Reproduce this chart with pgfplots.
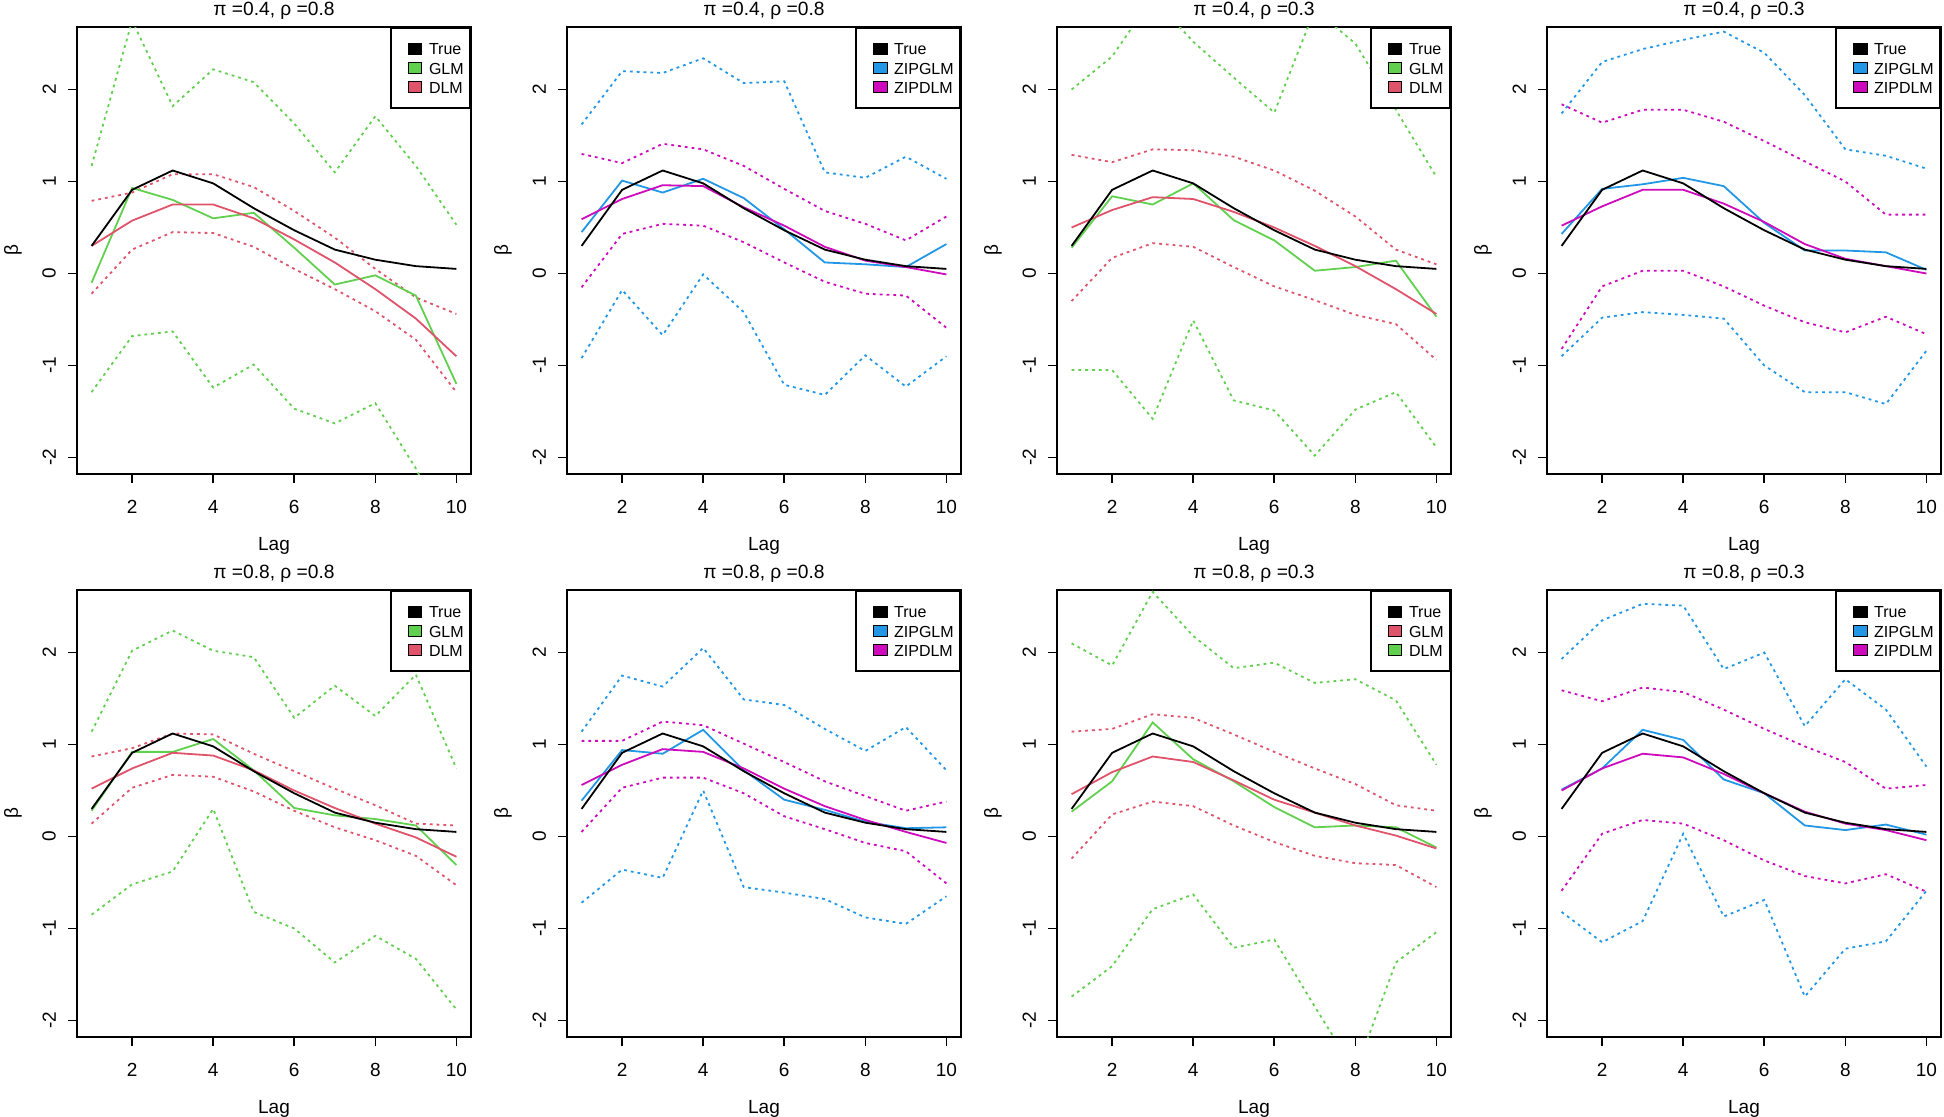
\documentclass[border=0pt]{standalone}
\usepackage{fontspec}
\setmainfont{Liberation Sans}
\usepackage{pgfplots}
\pgfplotsset{compat=1.18}
\definecolor{rred}{HTML}{DF536B}
\definecolor{rgreen}{HTML}{61D04F}
\definecolor{rblue}{HTML}{2297E6}
\definecolor{rmag}{HTML}{CD0BBC}
\pgfplotsset{
 panel/.style={
  scale only axis, width=197pt, height=223.5pt, anchor=north west,
  xmin=0.64, xmax=10.36, ymin=-2.18, ymax=2.68,
  axis line style={line width=1.1pt},
  xtick={2,4,6,8,10}, ytick={-2,-1,0,1,2}, yticklabels={-2,-1,0,1,2},
  tick align=outside, xtick pos=bottom, ytick pos=left,
  major tick length=4.5pt, tick style={black, line width=0.8pt},
  /pgf/number format/assume math mode=true,
  ticklabel style={font=\fontsize{9.5}{10}\selectfont},
  xticklabel style={yshift=-5pt},
  yticklabel style={rotate=90, anchor=near yticklabel, yshift=2.5pt},
  xlabel={Lag}, ylabel={β},
  label style={font=\fontsize{9.5}{10}\selectfont},
  xlabel style={at={(axis description cs:0.5,0)}, anchor=center, yshift=-35.8pt},
  ylabel style={at={(axis description cs:0,0.5)}, anchor=center, yshift=32pt},
  title style={at={(axis description cs:0.5,1)}, anchor=center, yshift=2.3pt, font=\fontsize{9.6}{10}\selectfont},
  legend style={at={(1,1)}, anchor=north east, draw=black, line width=0.9pt,
    font=\fontsize{8}{8}\selectfont, row sep=1.3pt, inner xsep=2.2pt, inner ysep=6.2pt,
    nodes={inner sep=1pt, text height=6.3pt, text depth=0pt},
    /tikz/every odd column/.append style={column sep=2.3pt}},
  legend cell align=left,
 },
 sol/.style={line width=0.9pt, forget plot},
 dot/.style={line width=0.9pt, dash pattern=on 1.4pt off 2pt, forget plot},
}
\newcommand{\legsq}[2]{\addlegendimage{legend image code/.code={\path (-6.2pt,0pt); \draw[draw=black,fill=#1,line width=0.5pt] (0pt,-2.8pt) rectangle (6.8pt,2.8pt);}}\addlegendentry{#2}}
\newcommand{\truth}{\addplot[sol, black] coordinates {(1,0.30)(2,0.91)(3,1.12)(4,0.98)(5,0.71)(6,0.47)(7,0.26)(8,0.15)(9,0.08)(10,0.05)};}
\begin{document}
\begin{tikzpicture}
\path[use as bounding box] (0,0) rectangle (972pt,-558pt);
% ---------- Panel 1 ----------
\begin{axis}[panel, at={(38.5pt,-13.5pt)}, title={π =0.4, ρ =0.8}]
\addplot[dot, rgreen] coordinates {(1,1.17)(2,2.75)(3,1.82)(4,2.22)(5,2.08)(6,1.63)(7,1.10)(8,1.71)(9,1.17)(10,0.53)};
\addplot[dot, rgreen] coordinates {(1,-1.29)(2,-0.68)(3,-0.63)(4,-1.24)(5,-0.99)(6,-1.47)(7,-1.63)(8,-1.41)(9,-2.12)(10,-3.0)};
\addplot[dot, rred] coordinates {(1,0.79)(2,0.88)(3,1.08)(4,1.08)(5,0.94)(6,0.68)(7,0.39)(8,0.05)(9,-0.26)(10,-0.44)};
\addplot[dot, rred] coordinates {(1,-0.22)(2,0.26)(3,0.45)(4,0.44)(5,0.29)(6,0.05)(7,-0.17)(8,-0.41)(9,-0.72)(10,-1.29)};
\addplot[sol, rgreen] coordinates {(1,-0.10)(2,0.93)(3,0.80)(4,0.60)(5,0.66)(6,0.28)(7,-0.12)(8,-0.02)(9,-0.24)(10,-1.20)};
\addplot[sol, rred] coordinates {(1,0.30)(2,0.575)(3,0.75)(4,0.75)(5,0.60)(6,0.37)(7,0.12)(8,-0.17)(9,-0.49)(10,-0.90)};
\truth
\legsq{black}{True}
\legsq{rgreen}{GLM}
\legsq{rred}{DLM}
\end{axis}
% ---------- Panel 2 ----------
\begin{axis}[panel, at={(283.5pt,-13.5pt)}, title={π =0.4, ρ =0.8}]
\addplot[dot, rblue] coordinates {(1,1.62)(2,2.20)(3,2.18)(4,2.34)(5,2.07)(6,2.09)(7,1.10)(8,1.04)(9,1.27)(10,1.03)};
\addplot[dot, rblue] coordinates {(1,-0.92)(2,-0.18)(3,-0.67)(4,-0.01)(5,-0.42)(6,-1.21)(7,-1.32)(8,-0.89)(9,-1.23)(10,-0.90)};
\addplot[dot, rmag] coordinates {(1,1.30)(2,1.20)(3,1.41)(4,1.35)(5,1.17)(6,0.92)(7,0.68)(8,0.54)(9,0.36)(10,0.62)};
\addplot[dot, rmag] coordinates {(1,-0.15)(2,0.43)(3,0.54)(4,0.52)(5,0.34)(6,0.12)(7,-0.09)(8,-0.22)(9,-0.24)(10,-0.59)};
\addplot[sol, rblue] coordinates {(1,0.45)(2,1.01)(3,0.88)(4,1.03)(5,0.82)(6,0.48)(7,0.12)(8,0.10)(9,0.07)(10,0.32)};
\addplot[sol, rmag] coordinates {(1,0.59)(2,0.81)(3,0.96)(4,0.95)(5,0.72)(6,0.52)(7,0.29)(8,0.14)(9,0.07)(10,-0.01)};
\truth
\legsq{black}{True}
\legsq{rblue}{ZIPGLM}
\legsq{rmag}{ZIPDLM}
\end{axis}
% ---------- Panel 3 ----------
\begin{axis}[panel, at={(528.5pt,-13.5pt)}, title={π =0.4, ρ =0.3}]
\addplot[dot, rgreen] coordinates {(1,2.00)(2,2.36)(3,3.00)(4,2.52)(5,2.13)(6,1.75)(7,2.87)(8,2.50)(9,1.78)(10,1.05)};
\addplot[dot, rgreen] coordinates {(1,-1.05)(2,-1.05)(3,-1.58)(4,-0.51)(5,-1.38)(6,-1.49)(7,-1.98)(8,-1.48)(9,-1.29)(10,-1.89)};
\addplot[dot, rred] coordinates {(1,1.29)(2,1.21)(3,1.35)(4,1.34)(5,1.27)(6,1.12)(7,0.90)(8,0.62)(9,0.26)(10,0.10)};
\addplot[dot, rred] coordinates {(1,-0.30)(2,0.17)(3,0.33)(4,0.29)(5,0.07)(6,-0.14)(7,-0.29)(8,-0.45)(9,-0.55)(10,-0.94)};
\addplot[sol, rgreen] coordinates {(1,0.28)(2,0.84)(3,0.75)(4,0.98)(5,0.58)(6,0.36)(7,0.03)(8,0.07)(9,0.14)(10,-0.47)};
\addplot[sol, rred] coordinates {(1,0.50)(2,0.69)(3,0.83)(4,0.81)(5,0.67)(6,0.50)(7,0.30)(8,0.08)(9,-0.17)(10,-0.44)};
\truth
\legsq{black}{True}
\legsq{rgreen}{GLM}
\legsq{rred}{DLM}
\end{axis}
% ---------- Panel 4 ----------
\begin{axis}[panel, at={(773.5pt,-13.5pt)}, title={π =0.4, ρ =0.3}]
\addplot[dot, rblue] coordinates {(1,1.74)(2,2.30)(3,2.44)(4,2.54)(5,2.63)(6,2.40)(7,1.94)(8,1.35)(9,1.28)(10,1.14)};
\addplot[dot, rblue] coordinates {(1,-0.90)(2,-0.48)(3,-0.42)(4,-0.45)(5,-0.49)(6,-1.00)(7,-1.29)(8,-1.29)(9,-1.42)(10,-0.84)};
\addplot[dot, rmag] coordinates {(1,1.84)(2,1.64)(3,1.78)(4,1.78)(5,1.65)(6,1.44)(7,1.22)(8,1.00)(9,0.64)(10,0.64)};
\addplot[dot, rmag] coordinates {(1,-0.82)(2,-0.14)(3,0.03)(4,0.03)(5,-0.14)(6,-0.35)(7,-0.53)(8,-0.64)(9,-0.47)(10,-0.66)};
\addplot[sol, rblue] coordinates {(1,0.43)(2,0.92)(3,0.97)(4,1.04)(5,0.95)(6,0.55)(7,0.25)(8,0.25)(9,0.23)(10,0.04)};
\addplot[sol, rmag] coordinates {(1,0.52)(2,0.73)(3,0.91)(4,0.91)(5,0.76)(6,0.56)(7,0.32)(8,0.16)(9,0.08)(10,0.00)};
\truth
\legsq{black}{True}
\legsq{rblue}{ZIPGLM}
\legsq{rmag}{ZIPDLM}
\end{axis}
% ---------- Panel 5 ----------
\begin{axis}[panel, at={(38.5pt,-295pt)}, title={π =0.8, ρ =0.8}]
\addplot[dot, rgreen] coordinates {(1,1.14)(2,2.02)(3,2.24)(4,2.02)(5,1.95)(6,1.29)(7,1.64)(8,1.31)(9,1.76)(10,0.74)};
\addplot[dot, rgreen] coordinates {(1,-0.85)(2,-0.52)(3,-0.38)(4,0.30)(5,-0.82)(6,-1.00)(7,-1.37)(8,-1.08)(9,-1.33)(10,-1.88)};
\addplot[dot, rred] coordinates {(1,0.87)(2,0.96)(3,1.12)(4,1.11)(5,0.90)(6,0.71)(7,0.52)(8,0.34)(9,0.14)(10,0.12)};
\addplot[dot, rred] coordinates {(1,0.14)(2,0.53)(3,0.67)(4,0.65)(5,0.49)(6,0.28)(7,0.10)(8,-0.04)(9,-0.21)(10,-0.53)};
\addplot[sol, rgreen] coordinates {(1,0.28)(2,0.92)(3,0.92)(4,1.06)(5,0.72)(6,0.31)(7,0.23)(8,0.19)(9,0.12)(10,-0.31)};
\addplot[sol, rred] coordinates {(1,0.52)(2,0.74)(3,0.91)(4,0.88)(5,0.72)(6,0.50)(7,0.31)(8,0.14)(9,-0.01)(10,-0.22)};
\truth
\legsq{black}{True}
\legsq{rgreen}{GLM}
\legsq{rred}{DLM}
\end{axis}
% ---------- Panel 6 ----------
\begin{axis}[panel, at={(283.5pt,-295pt)}, title={π =0.8, ρ =0.8}]
\addplot[dot, rblue] coordinates {(1,1.14)(2,1.75)(3,1.63)(4,2.05)(5,1.49)(6,1.43)(7,1.17)(8,0.93)(9,1.19)(10,0.72)};
\addplot[dot, rblue] coordinates {(1,-0.72)(2,-0.36)(3,-0.45)(4,0.50)(5,-0.55)(6,-0.61)(7,-0.68)(8,-0.88)(9,-0.95)(10,-0.65)};
\addplot[dot, rmag] coordinates {(1,1.04)(2,1.04)(3,1.25)(4,1.21)(5,1.01)(6,0.81)(7,0.60)(8,0.44)(9,0.28)(10,0.38)};
\addplot[dot, rmag] coordinates {(1,0.05)(2,0.53)(3,0.64)(4,0.64)(5,0.47)(6,0.22)(7,0.08)(8,-0.07)(9,-0.16)(10,-0.51)};
\addplot[sol, rblue] coordinates {(1,0.39)(2,0.94)(3,0.90)(4,1.16)(5,0.72)(6,0.40)(7,0.29)(8,0.16)(9,0.09)(10,0.10)};
\addplot[sol, rmag] coordinates {(1,0.56)(2,0.78)(3,0.95)(4,0.92)(5,0.74)(6,0.52)(7,0.33)(8,0.18)(9,0.05)(10,-0.07)};
\truth
\legsq{black}{True}
\legsq{rblue}{ZIPGLM}
\legsq{rmag}{ZIPDLM}
\end{axis}
% ---------- Panel 7 ----------
\begin{axis}[panel, at={(528.5pt,-295pt)}, title={π =0.8, ρ =0.3}]
\addplot[dot, rgreen] coordinates {(1,2.10)(2,1.86)(3,2.66)(4,2.18)(5,1.83)(6,1.89)(7,1.67)(8,1.71)(9,1.48)(10,0.78)};
\addplot[dot, rgreen] coordinates {(1,-1.74)(2,-1.41)(3,-0.79)(4,-0.63)(5,-1.21)(6,-1.12)(7,-1.85)(8,-2.56)(9,-1.37)(10,-1.04)};
\addplot[dot, rred] coordinates {(1,1.14)(2,1.17)(3,1.33)(4,1.29)(5,1.11)(6,0.92)(7,0.74)(8,0.57)(9,0.34)(10,0.28)};
\addplot[dot, rred] coordinates {(1,-0.24)(2,0.24)(3,0.38)(4,0.33)(5,0.12)(6,-0.06)(7,-0.21)(8,-0.29)(9,-0.31)(10,-0.55)};
\addplot[sol, rgreen] coordinates {(1,0.27)(2,0.60)(3,1.24)(4,0.84)(5,0.60)(6,0.32)(7,0.10)(8,0.12)(9,0.10)(10,-0.12)};
\addplot[sol, rred] coordinates {(1,0.46)(2,0.70)(3,0.87)(4,0.81)(5,0.61)(6,0.40)(7,0.26)(8,0.12)(9,0.01)(10,-0.13)};
\truth
\legsq{black}{True}
\legsq{rred}{GLM}
\legsq{rgreen}{DLM}
\end{axis}
% ---------- Panel 8 ----------
\begin{axis}[panel, at={(773.5pt,-295pt)}, title={π =0.8, ρ =0.3}]
\addplot[dot, rblue] coordinates {(1,1.93)(2,2.35)(3,2.53)(4,2.51)(5,1.82)(6,2.00)(7,1.20)(8,1.71)(9,1.38)(10,0.76)};
\addplot[dot, rblue] coordinates {(1,-0.82)(2,-1.15)(3,-0.92)(4,0.03)(5,-0.87)(6,-0.69)(7,-1.74)(8,-1.22)(9,-1.14)(10,-0.59)};
\addplot[dot, rmag] coordinates {(1,1.59)(2,1.47)(3,1.62)(4,1.57)(5,1.38)(6,1.17)(7,0.98)(8,0.81)(9,0.52)(10,0.56)};
\addplot[dot, rmag] coordinates {(1,-0.59)(2,0.03)(3,0.18)(4,0.14)(5,-0.04)(6,-0.26)(7,-0.43)(8,-0.51)(9,-0.41)(10,-0.60)};
\addplot[sol, rblue] coordinates {(1,0.51)(2,0.74)(3,1.16)(4,1.05)(5,0.62)(6,0.47)(7,0.12)(8,0.07)(9,0.13)(10,0.02)};
\addplot[sol, rmag] coordinates {(1,0.50)(2,0.74)(3,0.90)(4,0.86)(5,0.68)(6,0.47)(7,0.27)(8,0.14)(9,0.07)(10,-0.04)};
\truth
\legsq{black}{True}
\legsq{rblue}{ZIPGLM}
\legsq{rmag}{ZIPDLM}
\end{axis}
\end{tikzpicture}
\end{document}
